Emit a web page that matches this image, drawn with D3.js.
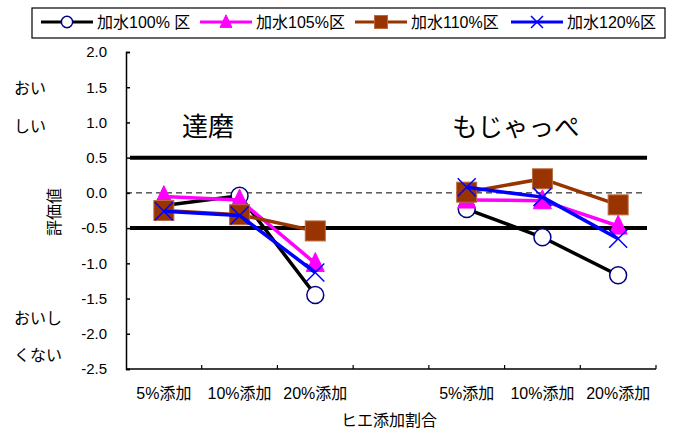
<!DOCTYPE html>
<html>
<head>
<meta charset="utf-8">
<script src="https://cdn.jsdelivr.net/npm/d3@7"></script>
<style>
  html, body { margin: 0; padding: 0; background: #fff; }
  svg text { font-family: "Liberation Sans", "Noto Sans CJK JP", sans-serif; fill: #000; }
</style>
</head>
<body>
<svg id="chart" width="676" height="433"></svg>
<script>
// Categories along the x axis (empty slot separates the two varieties)
const categories = ["5%添加", "10%添加", "20%添加", "", "5%添加", "10%添加", "20%添加"];
const groupLabels = ["達磨", "もじゃっぺ"];
const yTicks = [2.0, 1.5, 1.0, 0.5, 0.0, -0.5, -1.0, -1.5, -2.0, -2.5];
const refLines = [0.5, -0.5];

// Evaluation scores per water ratio
const seriesNames = ["加水100% 区", "加水105%区", "加水110%区", "加水120%区"];
const water100 = [-0.18, -0.04, -1.45, null, -0.23, -0.63, -1.17];
const water105 = [-0.05, -0.10, -1.00, null, -0.10, -0.11, -0.47];
const water110 = [-0.25, -0.31, -0.54, null, 0.01, 0.20, -0.17];
const water120 = [-0.26, -0.32, -1.13, null, 0.08, -0.06, -0.65];

const series = [
  { name: seriesNames[0], values: water100, line: "#000000", marker: "circle" },
  { name: seriesNames[1], values: water105, line: "#ff00ff", marker: "triangle" },
  { name: seriesNames[2], values: water110, line: "#993300", marker: "square" },
  { name: seriesNames[3], values: water120, line: "#0000ff", marker: "cross" }
];

const svg = d3.select("#chart");
const plotLeft = 126, plotRight = 656, plotTop = 52, plotBottom = 369;

const x = d3.scaleBand().domain(d3.range(categories.length)).range([plotLeft, plotRight]);
const y = d3.scaleLinear().domain([-2.5, 2]).range([plotBottom, plotTop]);

// y axis with inward ticks
const yAxis = svg.append("g").attr("transform", `translate(${plotLeft},0)`)
  .call(d3.axisLeft(y).tickValues(yTicks).tickSize(-4).tickPadding(18)
    .tickFormat(d3.format(".1f")));
yAxis.select(".domain").attr("stroke", "#000").attr("stroke-width", 1.5);
yAxis.selectAll(".tick line").attr("stroke", "#000").attr("stroke-width", 1.5);
yAxis.selectAll(".tick text").attr("font-size", 15).attr("x", -19)
  .text(d => (d < 0 ? "-" : "") + Math.abs(d).toFixed(1));

// x axis: baseline with upward ticks at category boundaries
const bounds = d3.range(categories.length + 1).map(i => plotLeft + i * x.step());
svg.append("line").attr("x1", plotLeft).attr("x2", plotRight).attr("y1", plotBottom).attr("y2", plotBottom)
  .attr("stroke", "#000").attr("stroke-width", 1.5);
svg.selectAll(".xtick").data(bounds.slice(1)).enter().append("line")
  .attr("x1", d => d).attr("x2", d => d).attr("y1", plotBottom).attr("y2", plotBottom - 4)
  .attr("stroke", "#000").attr("stroke-width", 1.2);

svg.selectAll(".xlab").data(categories).enter().append("text")
  .attr("x", (d, i) => x(i) + x.bandwidth() / 2).attr("y", 393)
  .attr("text-anchor", "middle").attr("dominant-baseline", "central")
  .attr("font-size", 16).text(d => d);

svg.append("text").attr("x", 389).attr("y", 420).attr("text-anchor", "middle")
  .attr("dominant-baseline", "central").attr("font-size", 16).text("ヒエ添加割合");

svg.append("text").attr("transform", "translate(54,212) rotate(-90)")
  .attr("text-anchor", "middle").attr("dominant-baseline", "central")
  .attr("font-size", 16).text("評価値");

// side captions
[["おい", 88], ["しい", 126], ["おいし", 318], ["くない", 355]].forEach(([t, yy]) => {
  svg.append("text").attr("x", 14).attr("y", yy).attr("dominant-baseline", "central")
    .attr("font-size", 16).text(t);
});

// reference lines
svg.append("line").attr("x1", plotLeft).attr("x2", 643).attr("y1", y(0)).attr("y2", y(0))
  .attr("stroke", "#000").attr("stroke-width", 1).attr("stroke-dasharray", "6,4");
svg.selectAll(".ref").data(refLines).enter().append("line")
  .attr("x1", 130).attr("x2", 647).attr("y1", d => y(d)).attr("y2", d => y(d))
  .attr("stroke", "#000").attr("stroke-width", 4);

// variety labels
svg.append("text").attr("x", 182).attr("y", 127).attr("dominant-baseline", "central")
  .attr("font-size", 26).text(groupLabels[0]);
svg.append("text").attr("x", 452).attr("y", 127).attr("dominant-baseline", "central")
  .attr("font-size", 25.5).text(groupLabels[1]);

function drawMarker(g, type, cx, cy, s) {
  if (type === "circle") {
    g.append("circle").attr("cx", cx).attr("cy", cy).attr("r", s * 0.47)
      .attr("fill", "#fff").attr("stroke", "#000080").attr("stroke-width", 1.5);
  } else if (type === "triangle") {
    const h = s;
    g.append("path").attr("d", `M${cx},${cy - h * 0.6}L${cx + s / 2},${cy + h * 0.45}L${cx - s / 2},${cy + h * 0.45}Z`)
      .attr("fill", "#ff00ff").attr("stroke", "#ff00ff").attr("stroke-width", 1);
  } else if (type === "square") {
    g.append("rect").attr("x", cx - s / 2).attr("y", cy - s / 2).attr("width", s).attr("height", s)
      .attr("fill", "#993300").attr("stroke", "#b86a40").attr("stroke-width", 1);
  } else if (type === "cross") {
    const r = s / 2;
    g.append("path").attr("d", `M${cx - r},${cy - r}L${cx + r},${cy + r}M${cx - r},${cy + r}L${cx + r},${cy - r}`)
      .attr("stroke", "#0000ff").attr("stroke-width", 1.5).attr("fill", "none");
  }
}

const markerSize = { circle: 18, triangle: 18, square: 20, cross: 18 };
const line = d3.line().defined(d => d.v !== null)
  .x(d => x(d.i) + x.bandwidth() / 2).y(d => y(d.v));

series.forEach(s => {
  const g = svg.append("g");
  const pts = s.values.map((v, i) => ({ v, i }));
  g.append("path").attr("d", line(pts)).attr("fill", "none")
    .attr("stroke", s.line).attr("stroke-width", 3.5).attr("stroke-linejoin", "round");
  pts.filter(p => p.v !== null).forEach(p => {
    drawMarker(g, s.marker, x(p.i) + x.bandwidth() / 2, y(p.v), markerSize[s.marker]);
  });
});

// legend
const lg = svg.append("g");
lg.append("rect").attr("x", 32).attr("y", 8).attr("width", 633).attr("height", 30)
  .attr("fill", "#fff").attr("stroke", "#000").attr("stroke-width", 1.2);
const legendX = [41, 200, 355, 511];
series.forEach((s, k) => {
  const x0 = legendX[k];
  lg.append("line").attr("x1", x0).attr("x2", x0 + 52).attr("y1", 22).attr("y2", 22)
    .attr("stroke", s.line).attr("stroke-width", 3);
  drawMarker(lg, s.marker, x0 + 26, 22, s.marker === "square" ? 13 : 12);
  lg.append("text").attr("x", x0 + 56).attr("y", 22).attr("dominant-baseline", "central")
    .attr("font-size", 16).text(s.name);
});
</script>
</body>
</html>
